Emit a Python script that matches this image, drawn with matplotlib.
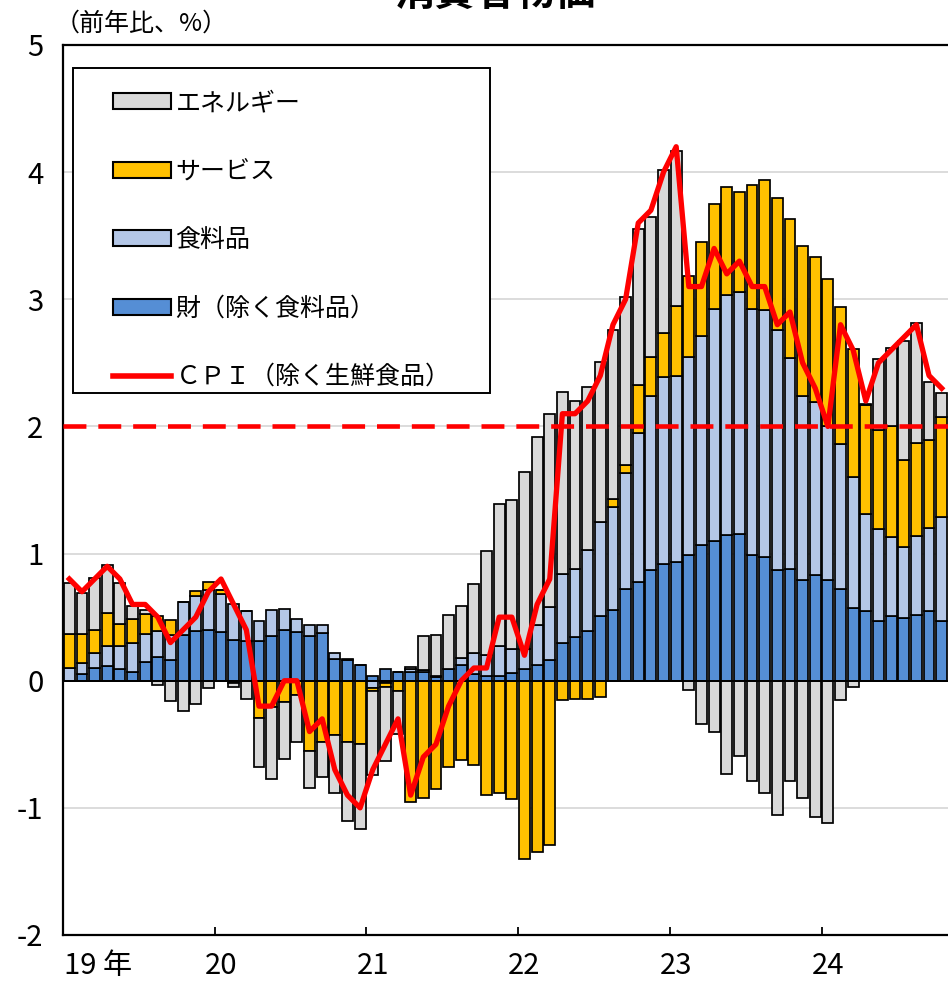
import numpy as np
import matplotlib.pyplot as plt
from matplotlib.patches import Patch, Rectangle
from matplotlib.lines import Line2D
from matplotlib.transforms import blended_transform_factory

plt.rcParams['font.family'] = ['Noto Sans CJK JP', 'DejaVu Sans']
plt.rcParams['axes.unicode_minus'] = False

# ----------------------------
# Data: monthly, Jan 2019 - Oct 2024 (contribution, y/y %)
# ----------------------------
year_labels = ['19 年', '20', '21', '22', '23', '24']

goods = [0.00, 0.05, 0.10, 0.115, 0.09, 0.07, 0.145, 0.19, 0.16, 0.36, 0.39, 0.40,
         0.38, 0.32, 0.31, 0.31, 0.35, 0.40, 0.38, 0.35, 0.375, 0.17, 0.16, 0.12,
         0.04, 0.09, 0.07, 0.07, 0.065, 0.03, 0.09, 0.125, 0.05, 0.04, 0.04, 0.06,
         0.09, 0.12, 0.16, 0.30, 0.34, 0.39, 0.51, 0.56, 0.72, 0.78, 0.87, 0.92,
         0.93, 0.99, 1.07, 1.10, 1.15, 1.155, 0.985, 0.975, 0.87, 0.88, 0.79, 0.83,
         0.79, 0.72, 0.57, 0.55, 0.47, 0.51, 0.49, 0.52, 0.55, 0.47]

food = [0.10, 0.09, 0.12, 0.16, 0.18, 0.225, 0.22, 0.20, 0.20, 0.26, 0.28, 0.31,
        0.30, 0.28, 0.235, 0.16, 0.21, 0.165, 0.105, 0.085, 0.065, 0.045, 0.01, 0.0,
        -0.06, -0.02, 0.0, 0.02, 0.02, 0.01, 0.0, 0.055, 0.17, 0.16, 0.23, 0.19,
        0.16, 0.32, 0.42, 0.54, 0.54, 0.64, 0.74, 0.81, 0.91, 1.17, 1.37, 1.47,
        1.47, 1.56, 1.64, 1.82, 1.88, 1.90, 1.94, 1.94, 1.89, 1.66, 1.45, 1.36,
        1.21, 1.14, 1.03, 0.76, 0.72, 0.62, 0.565, 0.62, 0.65, 0.82]

services = [0.265, 0.23, 0.18, 0.26, 0.18, 0.19, 0.16, 0.12, 0.12, 0.0, 0.035, 0.07,
            0.03, -0.02, 0.0, -0.29, -0.21, -0.17, -0.11, -0.55, -0.48, -0.43, -0.485, -0.50,
            -0.02, -0.03, -0.08, -0.95, -0.92, -0.85, -0.68, -0.62, -0.66, -0.90, -0.88, -0.93,
            -1.40, -1.35, -1.29, -0.15, -0.14, -0.14, -0.13, 0.06, 0.07, 0.375, 0.31, 0.345,
            0.55, 0.63, 0.74, 0.83, 0.85, 0.79, 0.975, 1.02, 1.04, 1.09, 1.18, 1.14,
            1.16, 1.08, 1.01, 0.86, 0.78, 0.87, 0.68, 0.73, 0.69, 0.785]

energy = [0.40, 0.32, 0.41, 0.375, 0.315, 0.10, 0.03, -0.03, -0.16, -0.24, -0.18, -0.06,
          0.0, -0.03, -0.14, -0.39, -0.56, -0.445, -0.37, -0.29, -0.28, -0.45, -0.62, -0.67,
          -0.66, -0.58, -0.34, 0.02, 0.27, 0.32, 0.43, 0.41, 0.54, 0.82, 1.12, 1.17,
          1.39, 1.48, 1.52, 1.43, 1.32, 1.28, 1.26, 1.33, 1.32, 1.23, 1.10, 1.28,
          1.22, -0.07, -0.34, -0.40, -0.73, -0.59, -0.79, -0.885, -1.06, -0.79, -0.92, -1.07,
          -1.12, -0.15, -0.05, 0.01, 0.56, 0.62, 0.94, 0.94, 0.46, 0.185]

cpi = [0.8, 0.7, 0.8, 0.9, 0.8, 0.6, 0.6, 0.5, 0.3, 0.4, 0.5, 0.7,
       0.8, 0.6, 0.4, -0.2, -0.2, 0.0, 0.0, -0.4, -0.3, -0.7, -0.9, -1.0,
       -0.7, -0.5, -0.3, -0.9, -0.6, -0.5, -0.2, 0.0, 0.1, 0.1, 0.5, 0.5,
       0.2, 0.6, 0.8, 2.1, 2.1, 2.2, 2.4, 2.8, 3.0, 3.6, 3.7, 4.0,
       4.2, 3.1, 3.1, 3.4, 3.2, 3.3, 3.1, 3.1, 2.8, 2.9, 2.5, 2.3,
       2.0, 2.8, 2.6, 2.2, 2.5, 2.6, 2.7, 2.8, 2.4, 2.3]

series_names = ['財（除く食料品）', '食料品', 'サービス', 'エネルギー']
series_colors = ['#558ED5', '#B4C7E7', '#FFC000', '#D9D9D9']
cpi_name = 'ＣＰＩ（除く生鮮食品）'
red = '#FF0000'

# ----------------------------
# Figure
# ----------------------------
fig = plt.figure(figsize=(9.48, 9.84), dpi=100)
ax = fig.add_axes([63 / 948, 49 / 984, 885 / 948, 890 / 984])

n = len(cpi)
x = np.arange(n)
pos_base = np.zeros(n)
neg_base = np.zeros(n)
for vals, color in zip([goods, food, services, energy], series_colors):
    v = np.array(vals)
    base = np.where(v >= 0, pos_base, neg_base)
    ax.bar(x, v, width=0.86, bottom=base, color=color, edgecolor='black',
           linewidth=1.25, zorder=2)
    pos_base += np.clip(v, 0, None)
    neg_base += np.clip(v, None, 0)

ax.axhline(0, color='black', lw=1.4, zorder=3)
ax.axhline(2, color=red, lw=3.3, dashes=(5.0, 2.6), zorder=3)
ax.plot(x, cpi, color=red, lw=3.8, solid_joinstyle='round', zorder=4)

# grid
for v in [-1, 1, 2, 3, 4]:
    ax.axhline(v, color='#D9D9D9', lw=1.3, zorder=0)

ax.set_xlim(-0.5, n - 0.5)
ax.set_ylim(-2, 5)
ax.set_yticks(range(-2, 6))
ax.set_xticks(np.arange(11.5, n, 12))
ax.tick_params(axis='x', direction='in', length=6, width=1.3, labelbottom=False)
ax.tick_params(axis='y', length=0, pad=14, labelsize=21)
for s in ['left', 'bottom', 'top']:
    ax.spines[s].set_linewidth(1.6)
ax.spines['right'].set_visible(False)

trans = blended_transform_factory(ax.transData, ax.transAxes)
for k, lab in enumerate(year_labels):
    if k == 0:
        ax.text(-0.45, -0.035, lab, ha='left', va='center', fontsize=21, transform=trans)
    else:
        ax.text(12 * k, -0.035, lab, ha='center', va='center', fontsize=21, transform=trans)

# legend box + legend
ax.add_patch(Rectangle((10 / 885, 1 - 348 / 890), 417 / 885, 325 / 890,
                       transform=ax.transAxes, facecolor='white', edgecolor='black',
                       lw=1.4, zorder=5))
handles = [Patch(facecolor=c, edgecolor='black', lw=1.5) for c in series_colors[::-1]]
handles.append(Line2D([], [], color=red, lw=4))
labels = series_names[::-1] + [cpi_name]
leg = ax.legend(handles, labels, loc='upper left',
                bbox_to_anchor=((113 - 63) / 885, 1 - (90 - 45) / 890),
                frameon=False, fontsize=18, handlelength=2.3, handleheight=0.62,
                handletextpad=0.2, labelspacing=1.7, borderpad=0, borderaxespad=0)
leg.set_zorder(6)

fig.text(55 / 948, 1 - 24 / 984, '（前年比、%）', ha='left', va='center', fontsize=18)
fig.text(495 / 948, 1 - 5 / 984, '消費者物価', ha='center', va='baseline',
         fontsize=29, fontweight='bold')

fig.savefig('out.png', dpi=100)
